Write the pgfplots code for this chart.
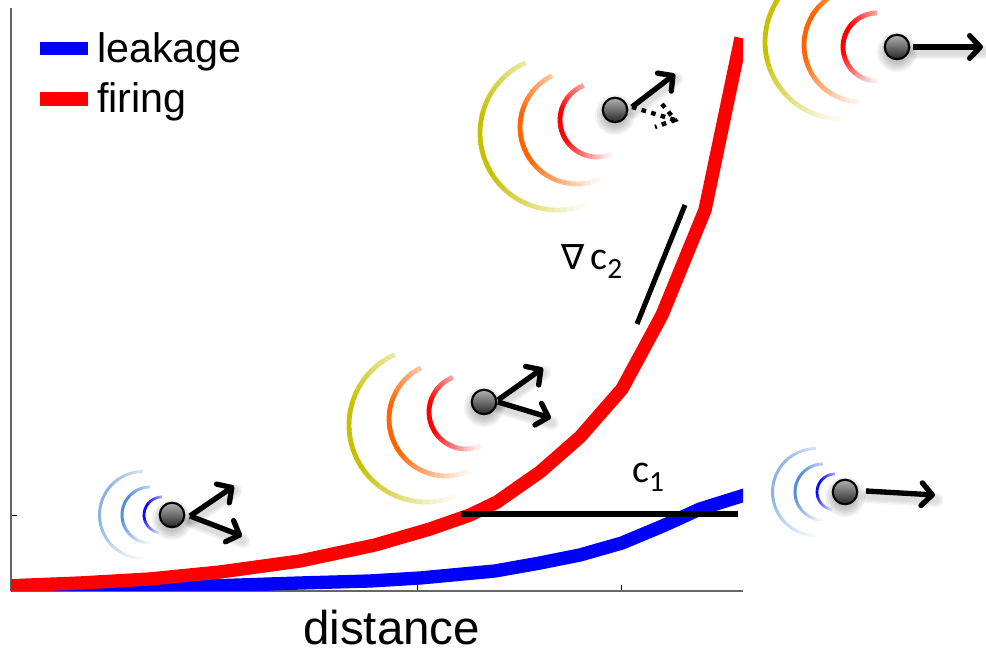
\documentclass[border=0pt]{standalone}
\usepackage{fontspec}
\setmainfont{Liberation Sans}
\newfontfamily\calfont{Carlito}
\newfontfamily\symfont{DejaVu Sans}
\usepackage{pgfplots}
\pgfplotsset{compat=1.18}
\usetikzlibrary{arrows.meta}

% red, orange, yellow wave fronts
\definecolor{wred}{RGB}{255,0,0}
\definecolor{worange}{RGB}{255,100,0}
\definecolor{wyellow}{RGB}{200,192,0}
\definecolor{wblue}{RGB}{0,0,255}
\definecolor{wsteel}{RGB}{85,140,215}
\definecolor{wpale}{RGB}{140,180,225}

% cx, cy, r, start, end, colour, width: arc that fades out at both ends
\newcommand{\garc}[7]{%
  \foreach \i in {1,...,36}{%
    \pgfmathsetmacro\aa{#4+(#5-#4)*(\i-1)/36}%
    \pgfmathsetmacro\ab{#4+(#5-#4)*\i/36+0.6}%
    \pgfmathsetmacro\tt{(\i-0.5)/36}%
    \pgfmathsetmacro\pp{max(8,100*min(1,1.3*(1-abs(\tt-0.42)/0.58)))}%
    \draw[line width=#7,color=#6!\pp!white,shift={(#1,#2)}] (\aa:#3) arc[start angle=\aa,end angle=\ab,radius=#3];%
  }%
}
\newcommand{\redwaves}[2]{%
  \garc{#1-18}{#2-10}{37}{111}{292}{wred}{3.6pt}%
  \garc{#1-38}{#2-17}{57}{116}{293}{worange}{3.6pt}%
  \garc{#1-58}{#2-23}{77}{114}{292}{wyellow}{3.6pt}%
}
\newcommand{\bluewaves}[2]{%
  \garc{#1-10}{#2}{18}{90}{270}{wblue}{2pt}%
  \garc{#1-22}{#2}{28}{90}{270}{wsteel}{2.2pt}%
  \garc{#1-29}{#2}{43.5}{90}{270}{wpale}{2.2pt}%
}
% soft shadow below a dot
\newcommand{\dotshadow}[2]{%
  \foreach \r in {20,18,16,14,12}{\fill[black,opacity=0.05] (#1,#2-5) circle[radius=\r];}%
}
\newcommand{\arrowshadow}[4]{%
  \foreach \w in {11pt,9pt,7pt,5pt}{\draw[black,opacity=0.035,line width=\w,line cap=round] (#1+1,#2-5) -- (#3+1,#4-5);}%
}
\tikzset{arr/.style={black,line width=4pt,-{Straight Barb[length=8pt,width=17pt,round]}}}

\pgfdeclareplotmark{gball}{%
  \shade[top color=black!30,bottom color=black!85,draw=black,line width=1.6pt] (0,0) circle[radius=9.2pt];%
}

\begin{document}
\begin{tikzpicture}
\path[use as bounding box,clip] (-8.25pt,-45.75pt) rectangle (731.25pt,443.25pt);

% scope in reference pixels, y counted up from the x axis
\begin{scope}[shift={(-8.25pt,0pt)},x=0.75pt,y=0.75pt]
  \dotshadow{172}{76}\dotshadow{484}{189}\dotshadow{615}{481}\dotshadow{897}{544}\dotshadow{845}{99}
  \arrowshadow{190}{75}{234}{105}\arrowshadow{190}{75}{242}{55}
  \arrowshadow{498}{191}{543}{223}\arrowshadow{498}{189}{551}{173}
  \arrowshadow{632}{484}{675}{517}
  \arrowshadow{913}{544}{983}{544}\arrowshadow{866}{100}{935}{96}
  \redwaves{615}{481}
  \redwaves{484}{189}
  \bluewaves{172}{76}
  \bluewaves{845}{99}
  \garc{877}{544}{34}{90}{270}{wred}{3.6pt}
  \garc{861}{546}{57}{95}{268}{worange}{3.6pt}
  \garc{842}{549}{77}{90}{268}{wyellow}{3.6pt}
\end{scope}

\begin{axis}[
  anchor=origin, at={(0,0)},
  scale only axis, width=549pt, height=437.25pt,
  xmin=11, xmax=743, ymin=0, ymax=583,
  axis x line*=bottom, axis y line*=left,
  axis line style={-,black!60,line width=0.9pt},
  xtick={417,621}, ytick={76},
  xticklabels={}, yticklabels={},
  tick align=inside, major tick length=4.5pt,
  tick style={black,line width=0.5pt},
  xlabel={distance},
  xlabel style={font=\fontsize{35.6}{36}\selectfont,at={(axis description cs:0.52,0)},anchor=north,yshift=-14.5pt,inner sep=0pt},
  clip mode=individual,
  legend style={at={(axis cs:33,561)},anchor=north west,draw=none,fill=none,
    font=\fontsize{31}{36}\selectfont,row sep=9.75pt,inner sep=0pt,outer sep=0pt},
  legend cell align=left,
  legend image code/.code={\draw[#1,line width=8.25pt] (0pt,0pt) -- (30.75pt,0pt);\path (0pt,0pt) -- (36pt,0pt);},
]
\addplot[wblue,line width=10pt] coordinates {
  (11,-8) (140,-1) (210,5) (300,8) (370,10) (420,13) (495,20) (540,28) (580,36) (622,48) (665,66) (700,82) (748,97) };
\addlegendentry{leakage}
\addplot[wred,line width=10pt] coordinates {
  (5,5) (80,8) (150,12) (220,19) (300,30) (375,46) (430,62) (470,76) (497,89) (540,119) (580,154) (622,202) (662,276) (705,381) (741,553) };
\addlegendentry{firing}
\addplot[black,line width=3.8pt,forget plot] coordinates { (461,77) (738,77) };
\addplot[black,line width=3.8pt,forget plot] coordinates { (637,267) (685,386) };
\node[font=\calfont\fontsize{30}{34}\selectfont,anchor=base west,inner sep=0pt] at (axis cs:632,108) {c\raisebox{-0.22em}{\fontsize{22}{24}\selectfont 1}};
\node[font=\fontsize{30}{34}\selectfont,anchor=base west,inner sep=0pt] at (axis cs:561,321) {{\symfont\fontsize{26}{30}\selectfont ∇}\hspace{0.15em}{\calfont c\raisebox{-0.22em}{\fontsize{22}{24}\selectfont 2}}};
\end{axis}

% overlay axis over the whole width for the dots
\begin{axis}[
  anchor=south west, at={(-8.25pt,0pt)},
  scale only axis, width=739.5pt, height=443.25pt,
  xmin=0, xmax=986, ymin=0, ymax=591,
  hide axis, clip=false,
]
\addplot[only marks,mark=gball] coordinates { (172,76) (484,189) (615,481) (897,544) (845,99) };
\end{axis}

\begin{scope}[shift={(-8.25pt,0pt)},x=0.75pt,y=0.75pt]
  \draw[arr] (190,75) -- (234,105);
  \draw[arr] (190,75) -- (242,55);
  \draw[arr] (498,191) -- (543,223);
  \draw[arr] (498,189) -- (551,173);
  \draw[arr] (632,484) -- (675,517);
  \draw[black,line width=3.3pt,dash pattern=on 3.5pt off 4pt] (632,484) -- (675,471) (662,487) -- (675,471) -- (655,464);
  \draw[arr] (913,544) -- (983,544);
  \draw[arr] (866,100) -- (935,96);
\end{scope}
\end{tikzpicture}
\end{document}
